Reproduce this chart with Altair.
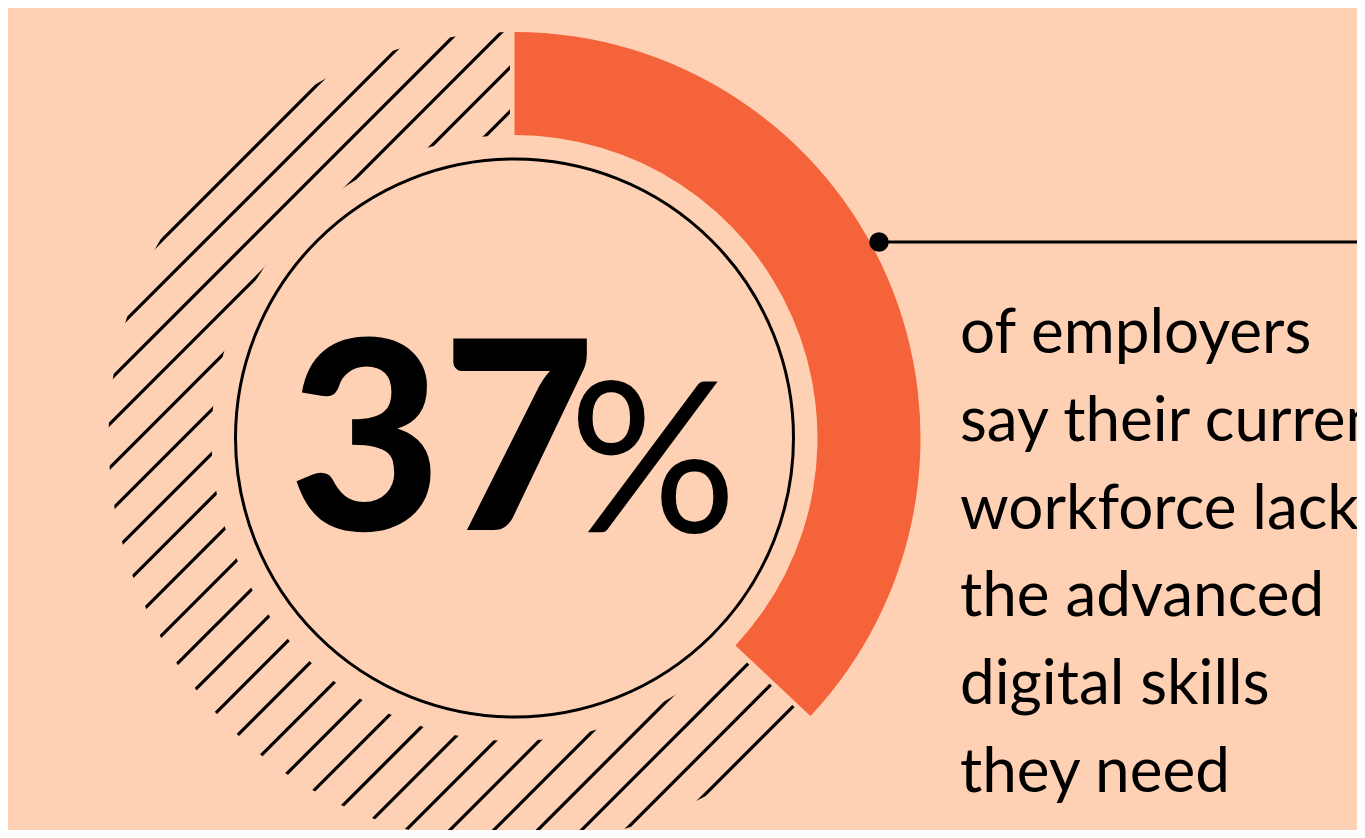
import altair as alt
import numpy as np
import pandas as pd

# ---------------- data ----------------
share_pct = [37]          # orange share of the ring
total_pct = [100]         # full ring
big_number = ["37"]
big_suffix = ["%"]
caption_lines = [
    "of employers",
    "say their current",
    "workforce lacks",
    "the advanced",
    "digital skills",
    "they need",
]

# ---------------- style / layout (plot area starts 8px into the page) ----------------
BG = "#FFD1B4"
ORANGE = "#F5633A"
INK = "#000000"
W, H = 1349, 822
OFF = 8
CX, CY = 514.5 - OFF, 438.0 - OFF
R_OUT, R_IN, R_RING = 406, 303, 279
HATCH_STEP = 43.9      # spacing of hatch lines measured along x + y
HATCH_PHASE = 0.46
GAP = 4.5

# hatch pattern (decorative diagonal lines, later masked to the ring)
ks = np.arange(-14, 14)
offs = (ks + HATCH_PHASE) * HATCH_STEP
half = (R_OUT + 15) / np.sqrt(2)
hatch = pd.DataFrame({
    "x": CX + offs / 2 - half,
    "y": CY + offs / 2 + half,
    "x2": CX + offs / 2 + half,
    "y2": CY + offs / 2 - half,
})

one = pd.DataFrame({"a": [0]})
ring_df = pd.DataFrame({"start": [0], "end": total_pct})
share_df = pd.DataFrame({"start": [0], "end": share_pct})
theta_scale = alt.Scale(domain=[0, 100], range=[0, 2 * np.pi])


def arc(df, **mark):
    return alt.Chart(df).mark_arc(**mark).encode(
        theta=alt.Theta("start:Q", scale=theta_scale, stack=None),
        theta2="end:Q",
        x=alt.value(CX),
        y=alt.value(CY),
    )


hatch_layer = alt.Chart(hatch).mark_rule(color=INK, strokeWidth=3.2, strokeCap="butt").encode(
    x=alt.X("x:Q", scale=None, axis=None),
    y=alt.Y("y:Q", scale=None, axis=None),
    x2="x2:Q",
    y2="y2:Q",
)

outer_mask = arc(ring_df, innerRadius=R_OUT, outerRadius=1100, color=BG)
inner_mask = arc(ring_df, innerRadius=0, outerRadius=R_IN, color=BG)
gap_mask = arc(share_df, innerRadius=R_IN, outerRadius=R_OUT, color=BG,
               stroke=BG, strokeWidth=2 * GAP, strokeJoin="miter")
orange_arc = arc(share_df, innerRadius=R_IN, outerRadius=R_OUT, color=ORANGE)
ring_line = arc(ring_df, innerRadius=0, outerRadius=R_RING, filled=False,
                color=INK, strokeWidth=3)

num_text = alt.Chart(pd.DataFrame({"t": big_number})).mark_text(
    font="Lato", fontWeight=900, fontSize=264, align="center",
    baseline="alphabetic", color=INK,
).encode(text="t:N", x=alt.value(442 - OFF), y=alt.value(530 - OFF))

pct_text = alt.Chart(pd.DataFrame({"t": big_suffix})).mark_text(
    font="Lato", fontWeight=400, fontSize=210, align="center",
    baseline="alphabetic", color=INK,
).encode(text="t:N", x=alt.value(653 - OFF), y=alt.value(532 - OFF))

caption = alt.Chart(one).mark_text(
    font="Lato", fontSize=62, align="left", baseline="alphabetic",
    lineHeight=87.8, color=INK,
).encode(text=alt.value(caption_lines), x=alt.value(960 - OFF), y=alt.value(353 - OFF))

callout_line = alt.Chart(one).mark_rule(color=INK, strokeWidth=3.2).encode(
    x=alt.value(879 - OFF), x2=alt.value(W + 5), y=alt.value(242 - OFF)
)
callout_dot = alt.Chart(one).mark_point(
    filled=True, shape="circle", size=380, color=INK, opacity=1
).encode(x=alt.value(879 - OFF), y=alt.value(242 - OFF))

chart = alt.layer(
    hatch_layer, outer_mask, inner_mask, gap_mask, orange_arc, ring_line,
    num_text, pct_text, caption, callout_line, callout_dot,
).properties(
    width=W, height=H, padding=0, autosize="none", background=BG,
).configure_view(stroke=None)

chart.save("out.html", embed_options={"renderer": "svg", "actions": False})
